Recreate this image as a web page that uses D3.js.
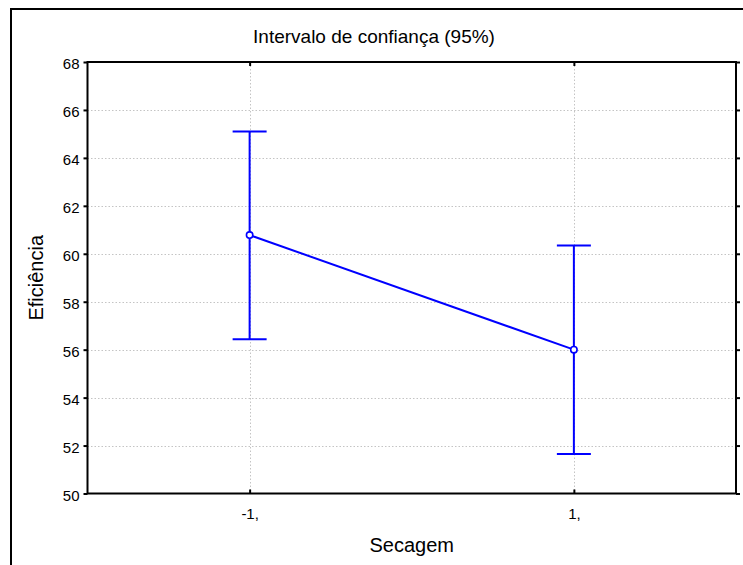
<!DOCTYPE html>
<html>
<head>
<meta charset="utf-8">
<script src="https://cdn.jsdelivr.net/npm/d3@7"></script>
<style>
  html, body { margin: 0; padding: 0; background: #fff; }
  svg { display: block; }
  text { font-family: "Liberation Sans", Arial, sans-serif; fill: #000; }
</style>
</head>
<body>
<svg id="chart" width="743" height="565"></svg>
<script>
// Mean efficiency per drying level, with 95% confidence limits
const categories = ["-1,", "1,"];
const means = [60.78, 56.0];
const lower = [56.43, 51.65];
const upper = [65.1, 60.35];
const yTicks = [50, 52, 54, 56, 58, 60, 62, 64, 66, 68];

const title = "Intervalo de confiança (95%)";
const xTitle = "Secagem";
const yTitle = "Eficiência";

const W = 743, H = 565;
const plot = { left: 87.5, right: 736, top: 62, bottom: 493.5 };

const svg = d3.select("#chart");

// Outer frame (left and top edges)
svg.append("path")
  .attr("d", `M11,${H + 2} L11,9 L${W + 2},9`)
  .attr("fill", "none")
  .attr("stroke", "#000")
  .attr("stroke-width", 2);

const x = d3.scalePoint()
  .domain(categories)
  .range([plot.left, plot.right])
  .padding(0.5);

const y = d3.scaleLinear()
  .domain([50, 68])
  .range([plot.bottom, plot.top]);

// Grid lines
const grid = svg.append("g").attr("stroke", "#c4c4c4").attr("stroke-width", 1)
  .attr("stroke-dasharray", "1.5,2");
grid.selectAll("line.h")
  .data(yTicks.filter(t => t > 50 && t < 68))
  .join("line")
  .attr("class", "h")
  .attr("x1", plot.left).attr("x2", plot.right)
  .attr("y1", d => Math.round(y(d)) + 0.5).attr("y2", d => Math.round(y(d)) + 0.5);
grid.selectAll("line.v")
  .data(categories)
  .join("line")
  .attr("class", "v")
  .attr("x1", d => Math.round(x(d)) + 0.5).attr("x2", d => Math.round(x(d)) + 0.5)
  .attr("y1", plot.top).attr("y2", plot.bottom);

// Axes
const tickFont = g => g.selectAll("text")
  .style("font-family", '"Liberation Sans", Arial, sans-serif')
  .style("font-size", "15px")
  .attr("fill", "#000");

const leftAxis = svg.append("g")
  .attr("transform", `translate(${plot.left},0)`)
  .call(d3.axisLeft(y).tickValues(yTicks).tickFormat(d3.format("d"))
    .tickSize(4).tickPadding(4))
  .call(tickFont);
leftAxis.selectAll("text").attr("dy", "0.45em");

svg.append("g")
  .attr("transform", `translate(${plot.right},0)`)
  .call(d3.axisLeft(y).tickValues(yTicks).tickSize(-4).tickFormat(""));

svg.append("g")
  .attr("transform", `translate(0,${plot.bottom})`)
  .call(d3.axisBottom(x).tickSize(-4).tickPadding(15))
  .call(tickFont);

svg.append("g")
  .attr("transform", `translate(0,${plot.top})`)
  .call(d3.axisTop(x).tickSize(-4).tickFormat(""));

svg.selectAll(".domain").remove();
svg.selectAll(".tick line").attr("stroke", "#000").attr("stroke-width", 2);

// Plot frame
svg.append("rect")
  .attr("x", plot.left).attr("y", plot.top)
  .attr("width", plot.right - plot.left)
  .attr("height", plot.bottom - plot.top)
  .attr("fill", "none")
  .attr("stroke", "#000")
  .attr("stroke-width", 2);

// Error bars
const blue = "#0000ff";
const capHalf = 17;
const bars = svg.append("g").attr("stroke", blue).attr("stroke-width", 2).attr("fill", "none");
categories.forEach((c, i) => {
  const cx = x(c);
  bars.append("line").attr("x1", cx).attr("x2", cx)
    .attr("y1", y(upper[i])).attr("y2", y(lower[i]));
  bars.append("line").attr("x1", cx - capHalf).attr("x2", cx + capHalf)
    .attr("y1", y(upper[i])).attr("y2", y(upper[i]));
  bars.append("line").attr("x1", cx - capHalf).attr("x2", cx + capHalf)
    .attr("y1", y(lower[i])).attr("y2", y(lower[i]));
});

// Mean line and markers
const line = d3.line().x((d, i) => x(categories[i])).y(d => y(d));
svg.append("path")
  .datum(means)
  .attr("d", line)
  .attr("fill", "none")
  .attr("stroke", blue)
  .attr("stroke-width", 2);

svg.selectAll("circle.mean")
  .data(means)
  .join("circle")
  .attr("class", "mean")
  .attr("cx", (d, i) => x(categories[i]))
  .attr("cy", d => y(d))
  .attr("r", 3.2)
  .attr("fill", "#fff")
  .attr("stroke", blue)
  .attr("stroke-width", 1.6);

// Titles
svg.append("text")
  .attr("x", 374).attr("y", 43)
  .attr("text-anchor", "middle")
  .style("font-size", "19px")
  .text(title);

svg.append("text")
  .attr("x", (plot.left + plot.right) / 2).attr("y", 552)
  .attr("text-anchor", "middle")
  .style("font-size", "20px")
  .text(xTitle);

svg.append("text")
  .attr("transform", `translate(43,${(plot.top + plot.bottom) / 2}) rotate(-90)`)
  .attr("text-anchor", "middle")
  .style("font-size", "20px")
  .text(yTitle);
</script>
</body>
</html>
